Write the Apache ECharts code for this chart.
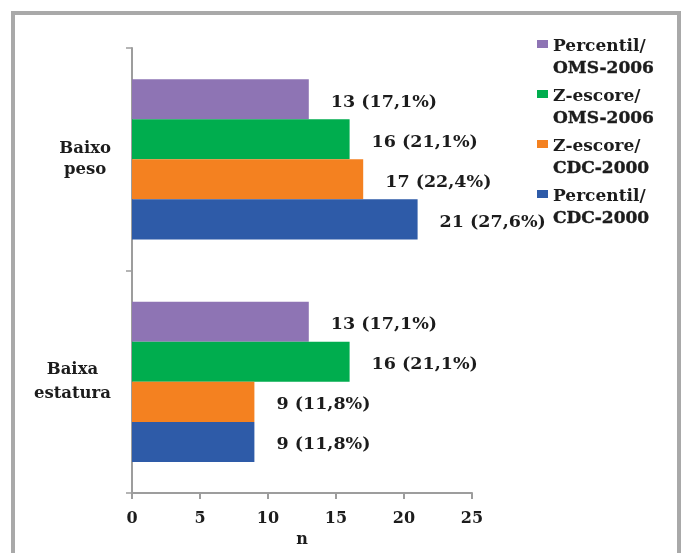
<!DOCTYPE html>
<html>
<head>
<meta charset="utf-8">
<script src="https://cdn.jsdelivr.net/npm/echarts@6/dist/echarts.min.js"></script>
<style>html,body{margin:0;padding:0;background:#fff}#c{width:686px;height:553px}</style>
</head>
<body>
<div id="c"></div>
<script>
var categories = ['Baixo peso', 'Baixa estatura'];
var seriesNames = ['Percentil/\nOMS-2006', 'Z-escore/\nOMS-2006', 'Z-escore/\nCDC-2000', 'Percentil/\nCDC-2000'];
var percentilOMS = [13, 13];
var zescoreOMS = [16, 16];
var zescoreCDC = [17, 9];
var percentilCDC = [21, 9];
var pctPercentilOMS = ['17,1%', '17,1%'];
var pctZescoreOMS = ['21,1%', '21,1%'];
var pctZescoreCDC = ['22,4%', '11,8%'];
var pctPercentilCDC = ['27,6%', '11,8%'];
var xTicks = [0, 5, 10, 15, 20, 25];

var colors = ['#8e74b4', '#00ad4e', '#f48120', '#2e5ba8'];
var FONT = 'DejaVu Serif';
var TXT = '#1c1c1c';

function mk(i, vals, pcts) {
  return {
    name: seriesNames[i],
    type: 'bar',
    data: vals,
    barGap: '0%',
    barCategoryGap: '28%',
    itemStyle: { color: colors[i] },
    label: {
      show: true,
      position: 'right',
      distance: 22,
      offset: [0, 3],
      fontFamily: FONT,
      fontWeight: 'bold',
      fontSize: 17.5,
      color: TXT,
      formatter: function (p) { return p.value + ' (' + pcts[p.dataIndex] + ')'; }
    }
  };
}

var chart = echarts.init(document.getElementById('c'));
chart.setOption({
  animation: false,
  backgroundColor: '#fff',
  graphic: [{
    type: 'rect',
    shape: { x: 13, y: 13, width: 666, height: 600 },
    style: { fill: 'none', stroke: '#a9a9a9', lineWidth: 4 },
    z: -1
  }],
  grid: { left: 132, right: 214, top: 48, bottom: 41, containLabel: false },
  legend: {
    orient: 'vertical',
    left: 532,
    top: 31,
    padding: 5,
    itemWidth: 11,
    itemHeight: 44,
    itemGap: 6,
    icon: 'path://M0,4h11v8h-11z M0,0h0.01 M0,44h0.01',
    formatter: function (name) {
      var parts = name.split('\n');
      return '{t|' + parts[0] + '}\n{u|' + parts[1] + '}';
    },
    textStyle: {
      fontFamily: FONT,
      fontWeight: 'bold',
      fontSize: 17,
      color: TXT,
      rich: {
        t: { fontFamily: FONT, fontWeight: 'bold', fontSize: 17, color: TXT, lineHeight: 22 },
        u: { fontFamily: FONT, fontWeight: 'bold', fontSize: 17, color: TXT, lineHeight: 22,
             textBorderColor: TXT, textBorderWidth: 0.4 }
      }
    },
    data: seriesNames
  },
  xAxis: {
    type: 'value',
    min: 0,
    max: 25,
    interval: 5,
    name: 'n',
    nameLocation: 'middle',
    nameGap: 38,
    nameTextStyle: { fontFamily: FONT, fontWeight: 'bold', fontSize: 16, color: TXT },
    axisLine: { show: true, lineStyle: { color: '#9d9d9d', width: 2 } },
    axisTick: { show: true, length: 6, lineStyle: { color: '#9d9d9d', width: 2 } },
    splitLine: { show: false },
    axisLabel: {
      margin: 18,
      fontFamily: FONT, fontWeight: 'bold', fontSize: 16, color: TXT,
      formatter: function (v) { return xTicks.indexOf(v) >= 0 ? String(v) : ''; }
    }
  },
  yAxis: {
    type: 'category',
    inverse: true,
    data: categories,
    axisLine: { show: true, lineStyle: { color: '#9d9d9d', width: 2 } },
    axisTick: { show: true, length: 6, lineStyle: { color: '#9d9d9d', width: 1.5 } },
    axisLabel: {
      margin: 21,
      align: 'right',
      formatter: function (v, idx) {
        var key = idx === 0 ? 'a' : 'b';
        return v.split(' ').map(function (w) { return '{' + key + '|' + w + '}'; }).join('\n');
      },
      rich: {
        a: { fontFamily: FONT, fontWeight: 'bold', fontSize: 16.5, color: TXT, align: 'center', lineHeight: 21 },
        b: { fontFamily: FONT, fontWeight: 'bold', fontSize: 16.5, color: TXT, align: 'center', lineHeight: 24 }
      }
    }
  },
  series: [
    mk(0, percentilOMS, pctPercentilOMS),
    mk(1, zescoreOMS, pctZescoreOMS),
    mk(2, zescoreCDC, pctZescoreCDC),
    mk(3, percentilCDC, pctPercentilCDC)
  ]
});
</script>
</body>
</html>
